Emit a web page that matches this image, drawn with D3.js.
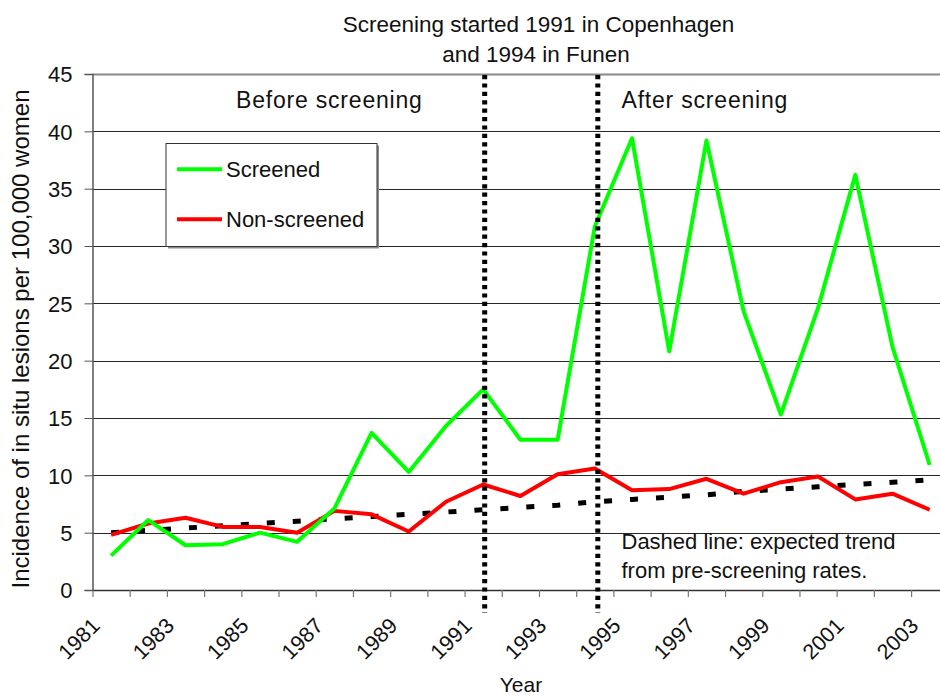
<!DOCTYPE html>
<html>
<head>
<meta charset="utf-8">
<script src="https://cdn.jsdelivr.net/npm/d3@7"></script>
<style>
  html, body { margin: 0; padding: 0; background: #fff; }
  svg { display: block; font-family: "Liberation Sans", Arial, Helvetica, sans-serif; }
</style>
</head>
<body>
<svg id="chart" width="940" height="698"></svg>
<script>
// ---- data ----
const years = [1981,1982,1983,1984,1985,1986,1987,1988,1989,1990,1991,1992,1993,1994,1995,1996,1997,1998,1999,2000,2001,2002,2003];
const screened = [3.0,6.1,3.9,4.0,5.0,4.2,7.1,13.7,10.3,14.3,17.5,13.1,13.1,31.7,39.4,20.8,39.2,24.3,15.3,24.6,36.2,21.2,10.9];
const nonScreened = [4.8,5.8,6.3,5.5,5.5,5.0,6.9,6.6,5.1,7.7,9.2,8.2,10.1,10.6,8.7,8.8,9.7,8.4,9.4,9.9,7.9,8.4,7.0];
const expectedTrend = [5.0,5.2,5.4,5.6,5.8,6.0,6.2,6.4,6.6,6.8,7.0,7.2,7.4,7.7,7.9,8.1,8.3,8.6,8.8,9.0,9.2,9.4,9.6];
const yTicks = [0,5,10,15,20,25,30,35,40,45];
const xLabelYears = [1981,1983,1985,1987,1989,1991,1993,1995,1997,1999,2001,2003];
const screeningStartYears = [1991, 1994];

(function () {
const svg = d3.select("#chart");
const pLeft = 92.5, pRight = 948.3, pTop = 74, pBottom = 590;

const x = d3.scaleLinear().domain([years[0] - 0.5, years[years.length - 1] + 0.5]).range([pLeft, pRight]);
const y = d3.scaleLinear().domain([0, 45]).range([pBottom, pTop]);

// gridlines
svg.append("g").selectAll("line").data(yTicks.filter(v => v > 0)).join("line")
  .attr("x1", pLeft).attr("x2", 940)
  .attr("y1", d => Math.round(y(d)) + 0.5).attr("y2", d => Math.round(y(d)) + 0.5)
  .attr("stroke", d => d === 45 ? "#8a8a8a" : "#262626")
  .attr("stroke-width", d => d === 45 ? 2 : 1);

// y axis
const yAxis = svg.append("g").attr("transform", `translate(${pLeft},0)`)
  .call(d3.axisLeft(y).tickValues(yTicks).tickSize(8).tickPadding(12));
yAxis.select(".domain").attr("stroke", "#555").attr("stroke-width", 1.5);
yAxis.selectAll(".tick line").attr("stroke", "#555");
yAxis.selectAll(".tick text").attr("font-size", 22).attr("fill", "#111")
  .attr("font-family", "Liberation Sans, Arial, sans-serif").attr("dy", "0.36em");

// x axis (ticks at category boundaries)
const edges = years.map(v => v - 0.5).concat([years[years.length - 1] + 0.5]);
const xAxis = svg.append("g").attr("transform", `translate(0,${pBottom})`)
  .call(d3.axisBottom(x).tickValues(edges).tickSize(7).tickFormat(""));
xAxis.select(".domain").attr("stroke", "#333").attr("stroke-width", 1.5).attr("d", `M${pLeft},0.5H940`);
xAxis.selectAll(".tick line").attr("stroke", "#777").attr("stroke-width", 1.2);

// x labels rotated
svg.append("g").selectAll("text").data(xLabelYears).join("text")
  .attr("transform", d => `translate(${x(d) - 10},627) rotate(-45)`)
  .attr("text-anchor", "end").attr("font-size", 21.5).attr("fill", "#111")
  .text(d => d);

// lines
const line = arr => d3.line().x((d, i) => x(years[i])).y(d => y(d))(arr);

svg.append("path").attr("d", line(expectedTrend))
  .attr("fill", "none").attr("stroke", "#000").attr("stroke-width", 5)
  .attr("stroke-dasharray", "8,18");

svg.append("path").attr("d", line(nonScreened))
  .attr("fill", "none").attr("stroke", "#ff0000").attr("stroke-width", 4)
  .attr("stroke-linejoin", "round");

svg.append("path").attr("d", line(screened))
  .attr("fill", "none").attr("stroke", "#00ff00").attr("stroke-width", 4)
  .attr("stroke-linejoin", "round");

// vertical dotted lines
const vOffsets = [1.5, 3];
svg.append("g").selectAll("line").data(screeningStartYears).join("line")
  .attr("x1", (d, i) => x(d) + vOffsets[i]).attr("x2", (d, i) => x(d) + vOffsets[i])
  .attr("y1", 75).attr("y2", 613)
  .attr("stroke", "#000").attr("stroke-width", 5).attr("stroke-dasharray", "4.2,4.2");

// legend
const lg = svg.append("g");
lg.append("rect").attr("x", 168).attr("y", 145.5).attr("width", 211).attr("height", 103).attr("fill", "#8c8c8c");
lg.append("rect").attr("x", 166).attr("y", 143.5).attr("width", 211).attr("height", 103)
  .attr("fill", "#fff").attr("stroke", "#333").attr("stroke-width", 1);
const legendItems = [{name: "Screened", color: "#00ff00"}, {name: "Non-screened", color: "#ff0000"}];
legendItems.forEach((it, i) => {
  const yy = 169.3 + i * 50;
  lg.append("line").attr("x1", 177).attr("x2", 222).attr("y1", yy).attr("y2", yy)
    .attr("stroke", it.color).attr("stroke-width", 4);
  lg.append("text").attr("x", 226).attr("y", yy + 7.5).attr("font-size", 22).attr("fill", "#111").text(it.name);
});

// texts
svg.append("text").attr("x", 538.5).attr("y", 31.5).attr("text-anchor", "middle")
  .attr("font-size", 22.5).attr("fill", "#111").text("Screening started 1991 in Copenhagen");
svg.append("text").attr("x", 536).attr("y", 61.5).attr("text-anchor", "middle")
  .attr("font-size", 22.5).attr("fill", "#111").text("and 1994 in Funen");

svg.append("text").attr("x", 236).attr("y", 108).attr("font-size", 23).attr("letter-spacing", 0.8)
  .attr("fill", "#111").text("Before screening");
svg.append("text").attr("x", 621.5).attr("y", 108).attr("font-size", 23).attr("letter-spacing", 0.8)
  .attr("fill", "#111").text("After screening");

svg.append("text").attr("x", 621.5).attr("y", 548.5).attr("font-size", 22).attr("fill", "#111")
  .text("Dashed line: expected trend");
svg.append("text").attr("x", 621.5).attr("y", 577.5).attr("font-size", 22).attr("fill", "#111")
  .text("from pre-screening rates.");

svg.append("text").attr("transform", "translate(29,339) rotate(-90)").attr("text-anchor", "middle")
  .attr("font-size", 24).attr("fill", "#111").text("Incidence of in situ lesions per 100,000 women");

svg.append("text").attr("x", 521).attr("y", 692).attr("text-anchor", "middle")
  .attr("font-size", 21).attr("fill", "#111").text("Year");
})();
</script>
</body>
</html>
